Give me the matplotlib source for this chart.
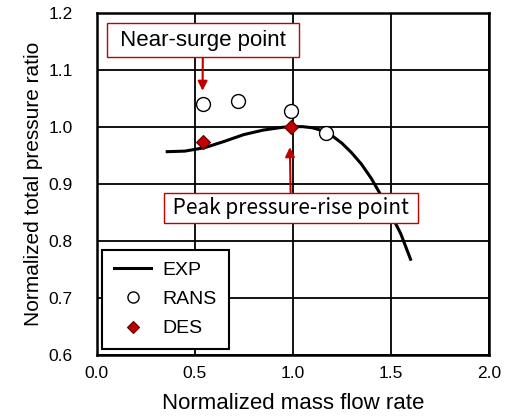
import numpy as np
import matplotlib
matplotlib.use("Agg")
from matplotlib import pyplot as plt

plt.rcParams['font.family'] = ['Liberation Sans', 'DejaVu Sans']

exp_x = [0.36, 0.45, 0.55, 0.65, 0.75, 0.85, 0.95, 1.00, 1.05, 1.10, 1.15,
         1.20, 1.25, 1.30, 1.35, 1.40, 1.45, 1.50, 1.55, 1.60]
exp_y = [0.957, 0.958, 0.964, 0.975, 0.987, 0.995, 1.000, 1.001, 1.001, 0.999,
         0.994, 0.985, 0.972, 0.955, 0.935, 0.910, 0.880, 0.847, 0.813, 0.768]

rans_x = [0.54, 0.72, 0.99, 1.17]
rans_y = [1.040, 1.046, 1.029, 0.990]

des_x = [0.54, 0.99]
des_y = [0.974, 1.000]

xticks = [0.0, 0.5, 1.0, 1.5, 2.0]
yticks = [0.6, 0.7, 0.8, 0.9, 1.0, 1.1, 1.2]

red = '#c00000'

fig = plt.figure(figsize=(5.11, 4.18), dpi=100)
ax = fig.add_axes([0.189, 0.151, 0.768, 0.817])

ax.plot(exp_x, exp_y, color='black', lw=2.2, label='EXP', zorder=3)
ax.plot(rans_x, rans_y, 'o', ms=10, mfc='white', mec='black', mew=1.0,
        label='RANS', zorder=4)
ax.plot(des_x, des_y, 'D', ms=7.5, mfc=red, mec='#600000', mew=0.8,
        label='DES', zorder=5)

ax.set_xlim(0, 2.0)
ax.set_ylim(0.6, 1.2)
ax.set_xticks(xticks)
ax.set_yticks(yticks)
ax.set_xticklabels([f'{v:.1f}' for v in xticks])
ax.set_yticklabels([f'{v:.1f}' for v in yticks])
ax.tick_params(length=0, labelsize=12.5)
ax.tick_params(axis='x', pad=8)
ax.tick_params(axis='y', pad=17)
ax.grid(True, color='black', lw=1.3)
for s in ax.spines.values():
    s.set_linewidth(1.8)
ax.set_xlabel('Normalized mass flow rate', fontsize=16, labelpad=9)
ax.set_ylabel('Normalized total pressure ratio', fontsize=15, labelpad=4)

# annotations
ax.annotate(' Near-surge point ', xy=(0.54, 1.064), xytext=(0.542, 1.153),
            ha='center', va='center', fontsize=16,
            bbox=dict(boxstyle='square,pad=0.3', fc='white', ec=red, lw=1.0),
            arrowprops=dict(arrowstyle='-|>', color=red, lw=1.5,
                            mutation_scale=14, shrinkA=0, shrinkB=0),
            zorder=6)
ax.annotate(' Peak pressure-rise point ', xy=(0.985, 0.965), xytext=(0.99, 0.858),
            ha='center', va='center', fontsize=15,
            family=['Noto Sans CJK JP', 'DejaVu Sans'],
            bbox=dict(boxstyle='square,pad=0.2', fc='white', ec=red, lw=1.0),
            arrowprops=dict(arrowstyle='-|>', color=red, lw=1.5,
                            mutation_scale=14, shrinkA=0, shrinkB=0),
            zorder=6)

leg = ax.legend(loc='lower left', fontsize=14, frameon=True, fancybox=False,
                edgecolor='black', framealpha=1, markerscale=0.8,
                borderaxespad=0.3, borderpad=0.6, handlelength=1.9,
                handletextpad=0.6, labelspacing=0.6)
leg.get_frame().set_linewidth(1.5)
leg.set_zorder(7)

fig.savefig('out.png', dpi=100)
